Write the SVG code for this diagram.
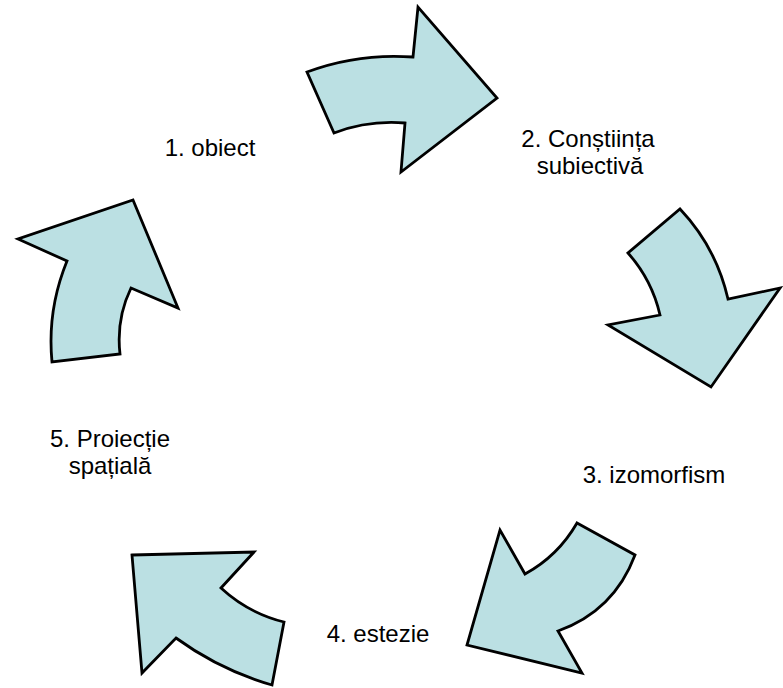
<svg xmlns="http://www.w3.org/2000/svg" width="783" height="688" viewBox="0 0 783 688">
<style>
.arr{fill:#BBE0E3;stroke:#000;stroke-width:2.8;stroke-linejoin:miter}
.lbl{font-family:"Liberation Sans",Arial,sans-serif;font-size:24px;fill:#000;text-anchor:middle}
</style>
<rect width="783" height="688" fill="#fff"/>
<g id="connectors">
<path id="arrow1" class="arr" d="M307,72 Q358,53 413,57 L418,7 L497,98 L401,172 L405,123 Q368,120 334,133 Z"/>
<path id="arrow2" class="arr" d="M680,209 Q716,247 728,299 L780,288 L711,387 L608,325 L660,315 Q652,280 628,253 Z"/>
<path id="arrow3" class="arr" d="M577,523 L635,555 Q614,611 558,631 L582,673 L467,645 L500,530 L525,574 Q558,556 577,523 Z"/>
<path id="arrow4" class="arr" d="M132,555 L254,552 L221,588 Q248,613 284,622 L272,685 Q220,670 176,638 L142,673 Z"/>
<path id="arrow5" class="arr" d="M133,200 L178,308 L131,288 Q116,319 120,354 L52,362 Q47,310 67,261 L18,239 Z"/>
</g>
<g id="node1"><text class="lbl" x="210" y="156">1. obiect</text></g>
<g id="node2"><text class="lbl" x="588" y="147">2. Conștiința</text><text class="lbl" x="590" y="174">subiectivă</text></g>
<g id="node3"><text class="lbl" x="654" y="483">3. izomorfism</text></g>
<g id="node4"><text class="lbl" x="378" y="642">4. estezie</text></g>
<g id="node5"><text class="lbl" x="110" y="447">5. Proiecție</text><text class="lbl" x="110" y="474">spațială</text></g>
</svg>
